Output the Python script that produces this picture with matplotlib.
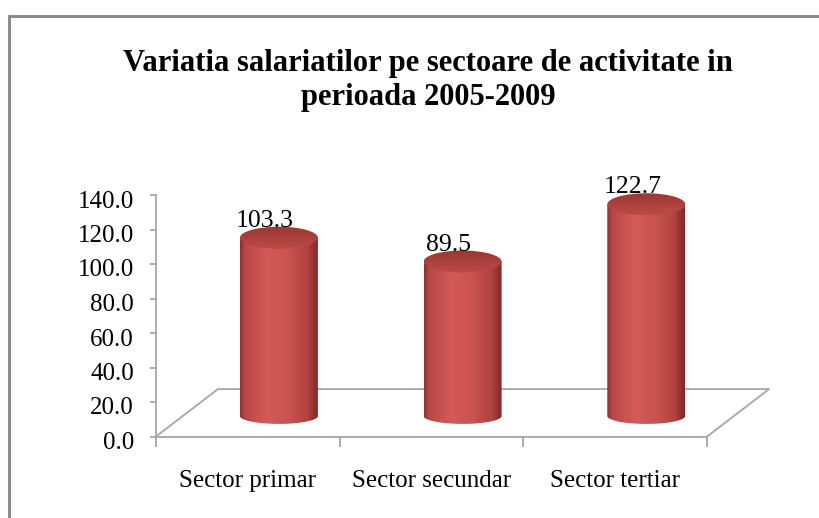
import numpy as np
import matplotlib
matplotlib.use('Agg')
import matplotlib.pyplot as plt
import matplotlib.transforms as mtransforms
from matplotlib.patches import Ellipse, PathPatch
from matplotlib.path import Path
from matplotlib.lines import Line2D
from matplotlib.colors import LinearSegmentedColormap

plt.rcParams['font.family'] = 'Liberation Serif'

sectors = ['Sector primar', 'Sector secundar', 'Sector tertiar']
values = [103.3, 89.5, 122.7]
yticks = [0, 20, 40, 60, 80, 100, 120, 140]
title_lines = ['Variatia salariatilor pe sectoare de activitate in',
               'perioada 2005-2009']

W, H = 820, 518
fig = plt.figure(figsize=(W / 100, H / 100), dpi=100)

# plot area placed in pixels: 183.7 px per category, 1.725 px per unit
xlo, xhi = -0.5, 2.9
ylo, yhi = 0, 150
px_x, px_y = 183.7, 1.725
x0_px, y0_px = 156, 436.5
ax = fig.add_axes([x0_px / W, (H - y0_px) / H,
                   (xhi - xlo) * px_x / W, (yhi - ylo) * px_y / H])

gray = '#a6a6a6'
depth_x, depth_y = 0.3375, 27.5      # floor depth (perspective shift)
bar_off, bar_base = 0.169, 11.9      # bars stand mid-depth on the floor
bar_w = 0.4246
top_h, bot_h = 6.4, 4.6              # half heights of the ellipses

body_cmap = LinearSegmentedColormap.from_list('body', [
    (0.0, '#8f302e'), (0.07, '#b9484a'), (0.35, '#d45b57'),
    (0.62, '#cb5350'), (0.87, '#b0423f'), (1.0, '#80282a')])
top_cmap = LinearSegmentedColormap.from_list('top', ['#bd4b48', '#9a3633'])

# floor outline
ax.plot([xlo, xlo + depth_x, 2.5 + depth_x, 2.5], [0, depth_y, depth_y, 0],
        color=gray, lw=1.3, clip_on=False, zorder=1)

for i, v in enumerate(values):
    cx = i + bar_off
    xa, xb = cx - bar_w / 2, cx + bar_w / 2
    top = bar_base + v

    th = np.linspace(np.pi, 2 * np.pi, 60)
    verts = [(xa, top)] + list(zip(cx + bar_w / 2 * np.cos(th),
                                   bar_base + bot_h * np.sin(th))) + [(xb, top), (xa, top)]
    body = PathPatch(Path(verts, closed=True), transform=ax.transData)
    im = ax.imshow(np.linspace(0, 1, 256).reshape(1, -1), cmap=body_cmap,
                   extent=[xa, xb, bar_base - bot_h, top], aspect='auto',
                   interpolation='bilinear', zorder=2)
    im.set_clip_path(body)

    cap = Ellipse((cx, top), bar_w, 2 * top_h, transform=ax.transData)
    im2 = ax.imshow(np.linspace(0, 1, 64).reshape(-1, 1), cmap=top_cmap,
                    extent=[xa, xb, top - top_h, top + top_h], aspect='auto',
                    origin='lower', interpolation='bilinear', zorder=3)
    im2.set_clip_path(cap)

    ax.text(cx - 0.075, top + top_h, f'{v:.1f}', ha='center', va='baseline',
            fontsize=18.5, zorder=4)

ax.set_xlim(xlo, xhi)
ax.set_ylim(ylo, yhi)
ax.patch.set_visible(False)
for s in ['top', 'right']:
    ax.spines[s].set_visible(False)
ax.spines['left'].set_bounds(0, 140)
ax.spines['bottom'].set_bounds(-0.5, 2.5)
for s in ['left', 'bottom']:
    ax.spines[s].set_color(gray)
    ax.spines[s].set_linewidth(1.3)

ax.set_yticks(yticks)
ax.set_yticklabels([f'{t:.1f}' for t in yticks])
ax.tick_params(axis='y', direction='out', length=4, width=1.3, color=gray,
               pad=12, labelsize=18)
ax.set_xticks(range(len(sectors)))
ax.set_xticklabels(sectors)
ax.set_xticks([-0.5, 0.5, 1.5, 2.5], minor=True)
ax.tick_params(axis='x', which='major', length=0, pad=24, labelsize=18)
ax.tick_params(axis='x', which='minor', length=7, width=1.3, color=gray)

offset = mtransforms.ScaledTranslation(0, -4 / 100, fig.dpi_scale_trans)
for lab in ax.get_yticklabels():
    lab.set_transform(lab.get_transform() + offset)

fig.text(428 / W, 1 - 71 / H, title_lines[0], ha='center', va='baseline',
         fontsize=22, fontweight='bold')
fig.text(428 / W, 1 - 105 / H, title_lines[1], ha='center', va='baseline',
         fontsize=22, fontweight='bold')

# chart border (cut off at right and bottom)
fig.add_artist(Line2D([9.5 / W, 9.5 / W], [0, 1 - 14.5 / H], color='#8c8c8c',
                      lw=2.2, solid_capstyle='butt'))
fig.add_artist(Line2D([8.4 / W, 1], [1 - 15.5 / H, 1 - 15.5 / H], color='#8c8c8c',
                      lw=2.2, solid_capstyle='butt'))

fig.savefig('out.png', dpi=100)
